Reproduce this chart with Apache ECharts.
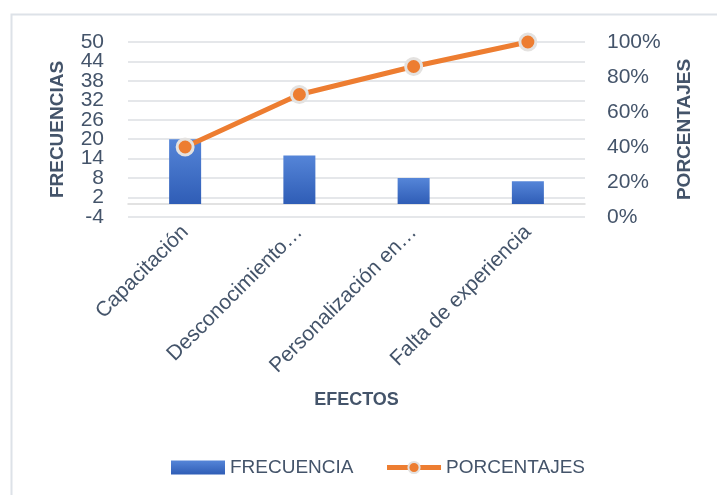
<!DOCTYPE html>
<html>
<head>
<meta charset="utf-8">
<script src="https://cdn.jsdelivr.net/npm/echarts@6/dist/echarts.min.js"></script>
<style>
html,body{margin:0;padding:0;background:#fff;}
#chart{width:717px;height:495px;}
</style>
</head>
<body>
<div id="chart"></div>
<script>
var categories = ['Capacitación', 'Desconocimiento…', 'Personalización en…', 'Falta de experiencia'];
var frecuencia = [20, 15, 8, 7];
var porcentajes = [0.40, 0.70, 0.86, 1.00];
var leftTicks = [-4, 2, 8, 14, 20, 26, 32, 38, 44, 50];
// split in two alternating sets so that no label is hidden by overlap logic
var leftTicksA = leftTicks.filter(function (v, i) { return i % 2 === 0; });
var leftTicksB = leftTicks.filter(function (v, i) { return i % 2 === 1; });

var textColor = '#44546A';
var font = 'Liberation Sans';
var leftLabel = function (vals) {
  return {
    customValues: vals, margin: 24, color: textColor, fontSize: 21, fontFamily: font,
    showMinLabel: true, showMaxLabel: true
  };
};
var chart = echarts.init(document.getElementById('chart'));
chart.setOption({
  backgroundColor: '#ffffff',
  animation: false,
  textStyle: { fontFamily: font },
  graphic: [{
    type: 'rect', left: 9, top: 12, silent: true,
    shape: { width: 730, height: 510 },
    style: { fill: 'none', stroke: '#dde2e8', lineWidth: 2 }
  }],
  grid: { left: 128, right: 132, top: 42, bottom: 278, outerBoundsMode: 'none' },
  legend: {
    left: 166, top: 453,
    itemWidth: 54, itemHeight: 14, itemGap: 31,
    textStyle: { color: textColor, fontSize: 19, fontFamily: font },
    data: [
      { name: 'FRECUENCIA', icon: 'rect' },
      { name: 'PORCENTAJES', lineStyle: { width: 5, color: '#ED7D31' } }
    ]
  },
  xAxis: {
    type: 'category',
    data: categories,
    name: 'EFECTOS',
    nameLocation: 'middle',
    nameGap: 174,
    nameTextStyle: { color: textColor, fontSize: 18, fontWeight: 'bold', fontFamily: font },
    axisLine: { show: true, onZero: true, onZeroAxisIndex: 0, lineStyle: { color: '#d9d9d9', width: 1.5 } },
    axisTick: { show: false },
    axisLabel: { rotate: 45, margin: 12, color: textColor, fontSize: 21, fontFamily: font, interval: 0 }
  },
  yAxis: [{
    type: 'value',
    min: -4, max: 50,
    position: 'left',
    name: 'FRECUENCIAS',
    nameLocation: 'middle',
    nameRotate: 90,
    nameGap: 61,
    nameTextStyle: { color: textColor, fontSize: 19, fontWeight: 'bold', fontFamily: font },
    axisLine: { show: false },
    axisTick: { show: false },
    splitLine: { show: false },
    axisLabel: leftLabel(leftTicksA)
  }, {
    type: 'value',
    min: 0, max: 1, interval: 0.2,
    position: 'right',
    name: 'PORCENTAJES',
    nameLocation: 'middle',
    nameRotate: 90,
    nameGap: 90,
    nameTextStyle: { color: textColor, fontSize: 19, fontWeight: 'bold', fontFamily: font },
    axisLine: { show: false },
    axisTick: { show: false },
    splitLine: { show: false },
    axisLabel: {
      margin: 22, color: textColor, fontSize: 21, fontFamily: font,
      showMinLabel: true, showMaxLabel: true,
      formatter: function (v) { return Math.round(v * 100) + '%'; }
    }
  }, {
    type: 'value',
    min: 0, max: 54, interval: 6,
    position: 'left',
    axisLine: { show: false },
    axisTick: { show: false },
    axisLabel: { show: false },
    splitLine: { show: true, lineStyle: { color: '#dcdfe3', width: 1.5 } }
  }, {
    type: 'value',
    min: -4, max: 50,
    position: 'left',
    axisLine: { show: false },
    axisTick: { show: false },
    splitLine: { show: false },
    axisLabel: leftLabel(leftTicksB)
  }],
  series: [{
    name: 'FRECUENCIA',
    type: 'bar',
    yAxisIndex: 0,
    data: frecuencia,
    barWidth: 32,
    itemStyle: {
      color: new echarts.graphic.LinearGradient(0, 0, 0, 1, [
        { offset: 0, color: '#5585d8' },
        { offset: 1, color: '#2f5db6' }
      ])
    },
    z: 2
  }, {
    name: 'PORCENTAJES',
    type: 'line',
    yAxisIndex: 1,
    data: porcentajes,
    symbol: 'circle',
    symbolSize: 16,
    lineStyle: { color: '#ED7D31', width: 5 },
    itemStyle: { color: '#ED7D31', borderColor: '#e4e2e0', borderWidth: 3 },
    z: 3
  }]
});
</script>
</body>
</html>
